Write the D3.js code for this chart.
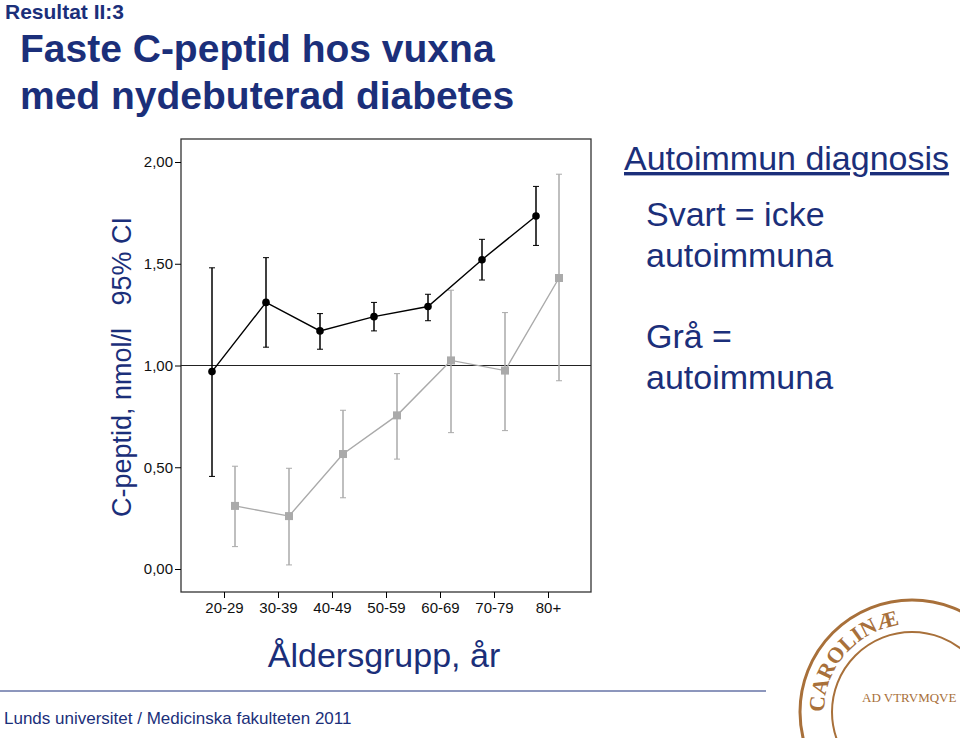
<!DOCTYPE html>
<html><head><meta charset="utf-8">
<script src="https://cdn.jsdelivr.net/npm/d3@7"></script>
<style>body{margin:0;background:#fff;font-family:Arial,"Liberation Sans",sans-serif}</style>
</head><body><div id="chart"></div>
<script>
// data
const groups = ["20-29","30-39","40-49","50-59","60-69","70-79","80+"];
const blackMean = [0.97,1.31,1.17,1.24,1.29,1.52,1.735];
const blackLo   = [0.455,1.09,1.08,1.17,1.22,1.42,1.59];
const blackHi   = [1.48,1.53,1.255,1.31,1.35,1.62,1.88];
const greyMean  = [0.31,0.26,0.565,0.755,1.025,0.975,1.43];
const greyLo    = [0.11,0.02,0.35,0.54,0.67,0.68,0.925];
const greyHi    = [0.505,0.495,0.78,0.96,1.37,1.26,1.94];
const yTicks = [0,0.5,1,1.5,2];

const navy = "#1b2f7a";
const svg = d3.select("#chart").append("svg").attr("width",960).attr("height",738);

svg.append("text").attr("x",5).attr("y",19).attr("font-size",21).attr("font-weight","bold").attr("fill",navy).text("Resultat II:3");
svg.append("text").attr("x",20).attr("y",62).attr("font-size",39).attr("font-weight","bold").attr("fill",navy).text("Faste C-peptid hos vuxna");
svg.append("text").attr("x",20).attr("y",109).attr("font-size",39).attr("font-weight","bold").attr("fill",navy).text("med nydebuterad diabetes");

// plot frame
const frame = {l:181, r:591, t:139, b:592};
const x = d3.scalePoint().domain(groups).range([224,548]);
const y = d3.scaleLinear().domain([0,2]).range([569,162]);

svg.append("rect").attr("x",frame.l).attr("y",frame.t).attr("width",frame.r-frame.l).attr("height",frame.b-frame.t)
  .attr("fill","none").attr("stroke","#333").attr("stroke-width",1.3);

svg.append("g").attr("transform",`translate(${frame.l},0)`)
  .call(d3.axisLeft(y).tickValues(yTicks).tickSize(6).tickPadding(2).tickFormat(d => d3.format(".2f")(d).replace(".",",")))
  .call(g => g.select(".domain").remove())
  .selectAll("text").attr("font-size",15).attr("font-family","Arial,'Liberation Sans',sans-serif").attr("fill","#111");

svg.append("g").attr("transform",`translate(0,${frame.b})`)
  .call(d3.axisBottom(x).tickSize(6).tickPadding(4))
  .call(g => g.select(".domain").remove())
  .selectAll("text").attr("font-size",15).attr("font-family","Arial,'Liberation Sans',sans-serif").attr("fill","#111");

// reference line at 1
svg.append("line").attr("x1",frame.l).attr("x2",frame.r).attr("y1",y(1)).attr("y2",y(1)).attr("stroke","#222").attr("stroke-width",1);

function series(mean, lo, hi, dx, color, shape){
  const g = svg.append("g");
  const px = d => x(d)+dx;
  const rows = groups.map((k,i)=>({k, m:mean[i], lo:lo[i], hi:hi[i]}));
  g.append("path").datum(rows).attr("fill","none").attr("stroke",color).attr("stroke-width",1.4)
    .attr("d", d3.line().x(d=>px(d.k)).y(d=>y(d.m)));
  const e = g.selectAll(".err").data(rows).join("g");
  e.append("line").attr("x1",d=>px(d.k)).attr("x2",d=>px(d.k)).attr("y1",d=>y(d.lo)).attr("y2",d=>y(d.hi)).attr("stroke",color).attr("stroke-width",1.5);
  e.append("line").attr("x1",d=>px(d.k)-3).attr("x2",d=>px(d.k)+3).attr("y1",d=>y(d.lo)).attr("y2",d=>y(d.lo)).attr("stroke",color);
  e.append("line").attr("x1",d=>px(d.k)-3).attr("x2",d=>px(d.k)+3).attr("y1",d=>y(d.hi)).attr("y2",d=>y(d.hi)).attr("stroke",color);
  if(shape==="circle"){
    g.selectAll("circle").data(rows).join("circle").attr("cx",d=>px(d.k)).attr("cy",d=>y(d.m)).attr("r",3.8).attr("fill",color);
  } else {
    g.selectAll("rect").data(rows).join("rect").attr("x",d=>px(d.k)-4).attr("y",d=>y(d.m)-4).attr("width",8).attr("height",8).attr("fill",color);
  }
}
series(greyMean, greyLo, greyHi, 11, "#aaaaaa", "square");
series(blackMean, blackLo, blackHi, -12, "#000", "circle");

// axis titles
svg.append("text").attr("transform","translate(131,367) rotate(-90)").attr("text-anchor","middle")
  .attr("font-size",27).attr("fill",navy).attr("xml:space","preserve").text("C-peptid, nmol/l   95% CI");
svg.append("text").attr("x",384).attr("y",667).attr("text-anchor","middle").attr("font-size",34).attr("fill",navy).text("Åldersgrupp, år");

// legend text
svg.append("text").attr("x",624).attr("y",170).attr("font-size",34).attr("fill",navy).attr("text-decoration","underline").text("Autoimmun diagnosis");
[["Svart = icke",226],["autoimmuna",267],["Grå =",348],["autoimmuna",389]].forEach(([t,yy]) =>
  svg.append("text").attr("x",646).attr("y",yy).attr("font-size",34).attr("fill",navy).text(t));

// footer
svg.append("line").attr("x1",0).attr("x2",766).attr("y1",691).attr("y2",691).attr("stroke",navy).attr("stroke-width",1);
svg.append("text").attr("x",4).attr("y",724).attr("font-size",17).attr("fill",navy).text("Lunds universitet / Medicinska fakulteten 2011");

// seal (approximation)
const seal = svg.append("g").attr("transform","translate(912,712)");
const brown = "#a8703a";
seal.append("circle").attr("r",112).attr("fill","none").attr("stroke",brown).attr("stroke-width",3);
seal.append("circle").attr("r",80).attr("fill","none").attr("stroke",brown).attr("stroke-width",2);
seal.append("path").attr("id","sealArc").attr("d",d3.arc()({innerRadius:88,outerRadius:88,startAngle:-Math.PI*0.5,endAngle:Math.PI*0.08})
  .split("L")[0]).attr("fill","none");
seal.append("text").attr("font-size",22).attr("font-weight","bold").attr("fill",brown).attr("font-family","'Liberation Serif',serif")
  .append("textPath").attr("href","#sealArc").text("CAROLINÆ");
seal.append("text").attr("x",-50).attr("y",-10).attr("font-size",13).attr("fill",brown).attr("font-family","'Liberation Serif',serif").text("AD VTRVMQVE");
</script></body></html>
